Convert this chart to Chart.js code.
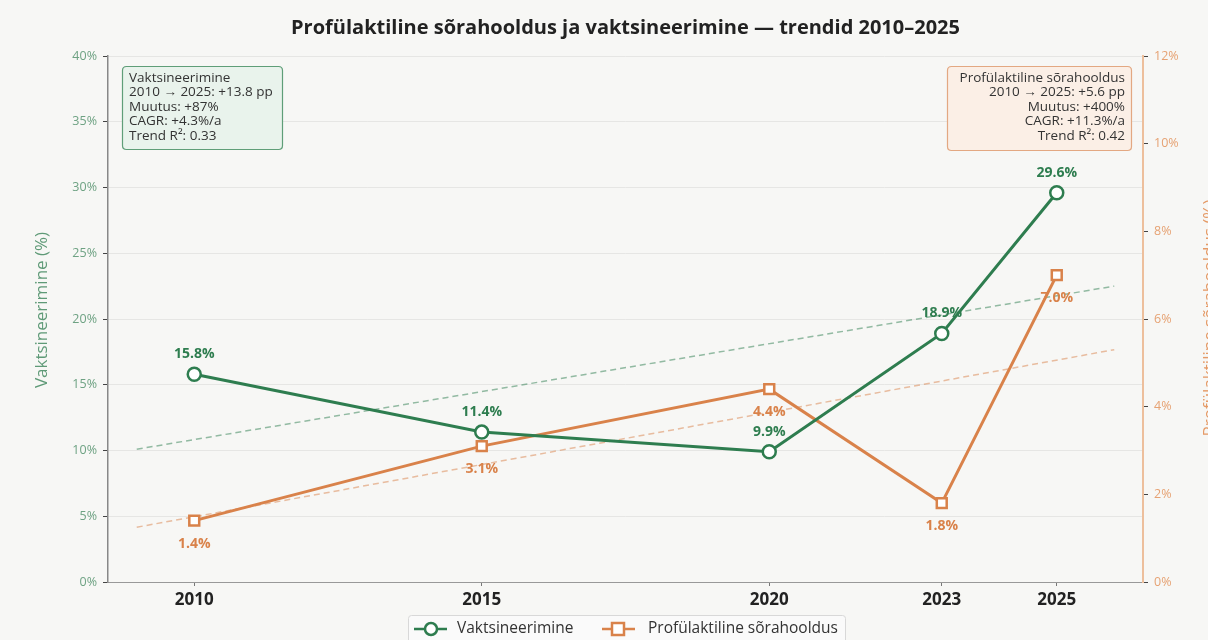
<!DOCTYPE html>
<html>
<head>
<meta charset="utf-8">
<script src="https://cdn.jsdelivr.net/npm/chart.js@4/dist/chart.umd.min.js"></script>
<style>
  body { margin: 0; background: #f7f7f5; }
  canvas { display: block; }
</style>
</head>
<body>
<canvas id="trendChart" width="1208" height="640"></canvas>
<script>
// Data
const years = [2010, 2015, 2020, 2023, 2025];
const vaccination = [15.8, 11.4, 9.9, 18.9, 29.6];
const hoofCare = [1.4, 3.1, 4.4, 1.8, 7.0];
const trendYears = [2009, 2026];
const vaccinationTrend = [10.1, 22.5];
const hoofCareTrend = [1.25, 5.3];
const leftTicks = [0, 5, 10, 15, 20, 25, 30, 35, 40];
const rightTicks = [0, 2, 4, 6, 8, 10, 12];

const vaccBox = ['Vaktsineerimine', '2010 → 2025: +13.8 pp', 'Muutus: +87%', 'CAGR: +4.3%/a', 'Trend R²: 0.33'];
const hoofBox = ['Profülaktiline sõrahooldus', '2010 → 2025: +5.6 pp', 'Muutus: +400%', 'CAGR: +11.3%/a', 'Trend R²: 0.42'];

const GREEN = '#2e7d4f';
const ORANGE = '#d9824a';
const FONT = '"Open Sans", "Noto Sans", sans-serif';

const toPoints = (xs, ys) => xs.map((x, i) => ({ x: x, y: ys[i] }));

function roundRect(ctx, x, y, w, h, r) {
    ctx.beginPath();
    ctx.moveTo(x + r, y);
    ctx.lineTo(x + w - r, y);
    ctx.quadraticCurveTo(x + w, y, x + w, y + r);
    ctx.lineTo(x + w, y + h - r);
    ctx.quadraticCurveTo(x + w, y + h, x + w - r, y + h);
    ctx.lineTo(x + r, y + h);
    ctx.quadraticCurveTo(x, y + h, x, y + h - r);
    ctx.lineTo(x, y + r);
    ctx.quadraticCurveTo(x, y, x + r, y);
    ctx.closePath();
}

// Background, titles, stat boxes, value labels, legend
const decorPlugin = {
    id: 'decor',
    beforeDraw(chart) {
        const ctx = chart.ctx;
        ctx.save();
        ctx.fillStyle = '#f7f7f5';
        ctx.fillRect(0, 0, chart.width, chart.height);
        ctx.restore();
    },
    afterDraw(chart) {
        const ctx = chart.ctx;
        const area = chart.chartArea;
        ctx.save();

        // title
        ctx.fillStyle = '#222';
        ctx.font = 'bold 20px ' + FONT;
        ctx.textAlign = 'center';
        ctx.textBaseline = 'middle';
        ctx.fillText('Profülaktiline sõrahooldus ja vaktsineerimine — trendid 2010–2025', (area.left + area.right) / 2, 28);

        // axis titles (bottom-up)
        ctx.font = '17px ' + FONT;
        ctx.save();
        ctx.translate(42, 310);
        ctx.rotate(-Math.PI / 2);
        ctx.fillStyle = '#5f9a77';
        ctx.fillText('Vaktsineerimine (%)', 0, 0);
        ctx.restore();
        ctx.save();
        ctx.translate(1210, 318);
        ctx.rotate(-Math.PI / 2);
        ctx.fillStyle = '#e59a66';
        ctx.fillText('Profülaktiline sõrahooldus (%)', 0, 0);
        ctx.restore();

        // stat boxes
        ctx.font = '13.5px ' + FONT;
        ctx.textBaseline = 'middle';
        ctx.lineWidth = 1.2;
        roundRect(ctx, 122.5, 66.5, 160, 83, 4);
        ctx.fillStyle = '#e9f3ec';
        ctx.fill();
        ctx.strokeStyle = '#5f9e78';
        ctx.stroke();
        ctx.fillStyle = '#333';
        ctx.textAlign = 'left';
        vaccBox.forEach((t, i) => ctx.fillText(t, 129, 78 + i * 14.5));

        roundRect(ctx, 947.5, 66.5, 184, 84, 4);
        ctx.fillStyle = '#fbefe6';
        ctx.fill();
        ctx.strokeStyle = '#e3a882';
        ctx.stroke();
        ctx.fillStyle = '#333';
        ctx.textAlign = 'right';
        hoofBox.forEach((t, i) => ctx.fillText(t, 1125, 78 + i * 14.5));

        // value labels
        ctx.font = 'bold 14px ' + FONT;
        ctx.textAlign = 'center';
        const m0 = chart.getDatasetMeta(0);
        m0.data.forEach((pt, i) => {
            ctx.fillStyle = GREEN;
            ctx.fillText(vaccination[i].toFixed(1) + '%', pt.x, pt.y - 20);
        });
        const m1 = chart.getDatasetMeta(1);
        m1.data.forEach((pt, i) => {
            ctx.fillStyle = ORANGE;
            ctx.fillText(hoofCare[i].toFixed(1) + '%', pt.x, pt.y + 23);
        });

        // legend
        roundRect(ctx, 408.5, 615.5, 437, 30, 3);
        ctx.fillStyle = '#fafafa';
        ctx.fill();
        ctx.strokeStyle = '#d8d8d8';
        ctx.lineWidth = 1;
        ctx.stroke();
        const ly = 629;
        ctx.lineWidth = 2.5;
        ctx.strokeStyle = GREEN;
        ctx.beginPath(); ctx.moveTo(414, ly); ctx.lineTo(447, ly); ctx.stroke();
        ctx.beginPath(); ctx.arc(431, ly, 6, 0, Math.PI * 2);
        ctx.fillStyle = '#fff'; ctx.fill(); ctx.stroke();
        ctx.strokeStyle = ORANGE;
        ctx.beginPath(); ctx.moveTo(602, ly); ctx.lineTo(635, ly); ctx.stroke();
        ctx.fillStyle = '#fff';
        ctx.fillRect(612, ly - 6, 12, 12);
        ctx.strokeRect(612, ly - 6, 12, 12);
        ctx.fillStyle = '#333';
        ctx.font = '15.5px ' + FONT;
        ctx.textAlign = 'left';
        ctx.fillText('Vaktsineerimine', 457, ly);
        ctx.fillText('Profülaktiline sõrahooldus', 648, ly);

        ctx.restore();
    }
};

new Chart(document.getElementById('trendChart'), {
    type: 'line',
    data: {
        datasets: [{
            label: 'Vaktsineerimine',
            data: toPoints(years, vaccination),
            yAxisID: 'y',
            borderColor: GREEN,
            borderWidth: 3,
            pointStyle: 'circle',
            pointRadius: 6.5,
            pointBorderWidth: 2.5,
            pointBackgroundColor: '#fff',
            pointBorderColor: GREEN,
            tension: 0,
            order: 1
        }, {
            label: 'Profülaktiline sõrahooldus',
            data: toPoints(years, hoofCare),
            yAxisID: 'y1',
            borderColor: ORANGE,
            borderWidth: 3,
            pointStyle: 'rect',
            pointRadius: 7,
            pointBorderWidth: 2.5,
            pointBackgroundColor: '#fff',
            pointBorderColor: ORANGE,
            tension: 0,
            order: 2
        }, {
            label: 'Vaktsineerimine trend',
            data: toPoints(trendYears, vaccinationTrend),
            yAxisID: 'y',
            borderColor: 'rgba(46, 125, 79, 0.5)',
            borderWidth: 1.5,
            borderDash: [6, 4],
            pointRadius: 0,
            order: 3
        }, {
            label: 'Sõrahooldus trend',
            data: toPoints(trendYears, hoofCareTrend),
            yAxisID: 'y1',
            borderColor: 'rgba(217, 130, 74, 0.5)',
            borderWidth: 1.5,
            borderDash: [6, 4],
            pointRadius: 0,
            order: 4
        }]
    },
    options: {
        responsive: false,
        animation: false,
        devicePixelRatio: 1,
        layout: { padding: { top: 56, left: 0, right: 0, bottom: 0 } },
        plugins: {
            legend: { display: false },
            tooltip: { enabled: false }
        },
        scales: {
            x: {
                type: 'linear',
                min: 2008.5,
                max: 2026.5,
                afterBuildTicks: (scale) => { scale.ticks = years.map(v => ({ value: v })); },
                afterFit: (scale) => { scale.height = 58; },
                ticks: {
                    color: '#222',
                    font: { family: FONT, size: 17, weight: 'bold' },
                    callback: (v) => String(v),
                    padding: 4
                },
                grid: { display: true, drawOnChartArea: false, tickLength: 4, tickColor: '#777' },
                border: { color: '#999', width: 1 }
            },
            y: {
                position: 'left',
                min: 0,
                max: 40,
                afterBuildTicks: (scale) => { scale.ticks = leftTicks.map(v => ({ value: v })); },
                afterFit: (scale) => { scale.width = 108; },
                ticks: {
                    color: '#6ea283',
                    font: { family: FONT, size: 12.5 },
                    callback: (v) => v + '%',
                    padding: 6
                },
                grid: { color: '#e6e6e4', lineWidth: 1, tickLength: 5, tickColor: '#444' },
                border: { color: '#888', width: 1.5 }
            },
            y1: {
                position: 'right',
                min: 0,
                max: 12,
                afterBuildTicks: (scale) => { scale.ticks = rightTicks.map(v => ({ value: v })); },
                afterFit: (scale) => { scale.width = 65; },
                ticks: {
                    color: '#e6a273',
                    font: { family: FONT, size: 12.5 },
                    callback: (v) => v + '%',
                    padding: 6
                },
                grid: { drawOnChartArea: false, tickLength: 5, tickColor: '#444' },
                border: { color: '#edbf9c', width: 2 }
            }
        }
    },
    plugins: [decorPlugin]
});
</script>
</body>
</html>
